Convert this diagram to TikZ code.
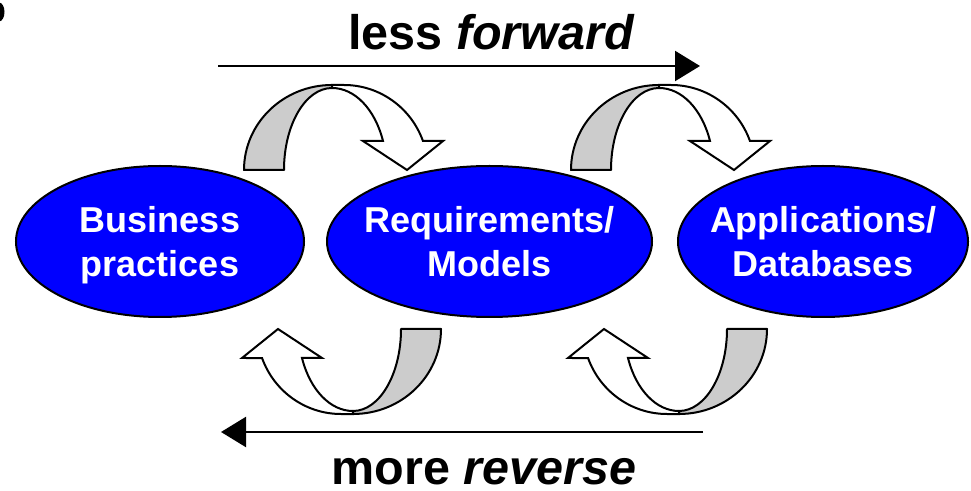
\documentclass[tikz,border=0pt]{standalone}
\usepackage{fontspec}
\setmainfont{Liberation Sans}
\usetikzlibrary{shapes.geometric,arrows.meta}
\definecolor{stageblue}{RGB}{0,0,255}
\definecolor{ribbongray}{RGB}{204,204,204}
\tikzset{
  stage/.style={ellipse, draw=black, line width=2pt, fill=stageblue, inner sep=0pt},
  stagetext/.style={text=white, font=\fontsize{36}{43.2}\selectfont\bfseries,
    align=center, inner sep=0pt, text depth=0pt},
  flowlabel/.style={font=\fontsize{48.5}{58}\selectfont\bfseries, anchor=base, inner sep=0pt},
  flowline/.style={line width=2.2pt, -{Triangle[length=25pt,width=30pt]}},
  ribbonback/.style={fill=ribbongray, draw=black, line width=2pt, line join=round},
  ribbonfront/.style={fill=white, draw=black, line width=2pt, line join=miter},
  % curved ribbon arrow: grey back half rising from (0,0), white front half with head
  pics/turnarrow/.style={code={
    \path[ribbonback] (0,0)
      arc[start angle=180, end angle=90, x radius=88, y radius=85]
      -- (88,82)
      arc[start angle=90, end angle=180, x radius=48, y radius=82]
      -- cycle;
    \path[ribbonfront] (88,85) -- (100,85)
      arc[start angle=90, end angle=19.95, x radius=84, y radius=85]
      -- (199,29) -- (163,0) -- (119,29) -- (139,29)
      arc[start angle=20.71, end angle=90, x radius=54.5, y radius=82]
      -- cycle;
  }}
}
\begin{document}
\begin{tikzpicture}[x=1pt,y=1pt]
\useasboundingbox (0,0) rectangle (971,490);

% partial bullet at the upper left corner
\fill[black] (-1,478) ellipse[x radius=5.5, y radius=9.5];

% the three stages
\node[stage, minimum width=288pt, minimum height=151pt] (bp) at (160,248.5) {};
\node[stage, minimum width=325pt, minimum height=151pt] (rm) at (489.5,248.5) {};
\node[stage, minimum width=290pt, minimum height=151pt] (ad) at (823,248.5) {};

\node[stagetext] (bptext) at (bp.center) {Business\\practices};
\node[stagetext] (rmtext) at (rm.center) {Requirements/\\Models};
\node[stagetext] (adtext) at (ad.center) {Applications/\\Databases};

% forward ribbons above, reverse ribbons below
\pic at (244,320) {turnarrow};
\pic at (571,320) {turnarrow};
\pic[rotate=180] at (441,161) {turnarrow};
\pic[rotate=180] at (767,161) {turnarrow};

% direction arrows with their labels
\coordinate (fwdstart) at (218,424);
\coordinate (fwdend) at (700,424);
\draw[flowline] (fwdstart) -- (fwdend);
\node[flowlabel] (fwdlabel) at (491.5,440) {less \textit{forward}};

\coordinate (revstart) at (703,58);
\coordinate (revend) at (221,58);
\draw[flowline] (revstart) -- (revend);
\node[flowlabel] (revlabel) at (484,6) {more \textit{reverse}};
\end{tikzpicture}
\end{document}
